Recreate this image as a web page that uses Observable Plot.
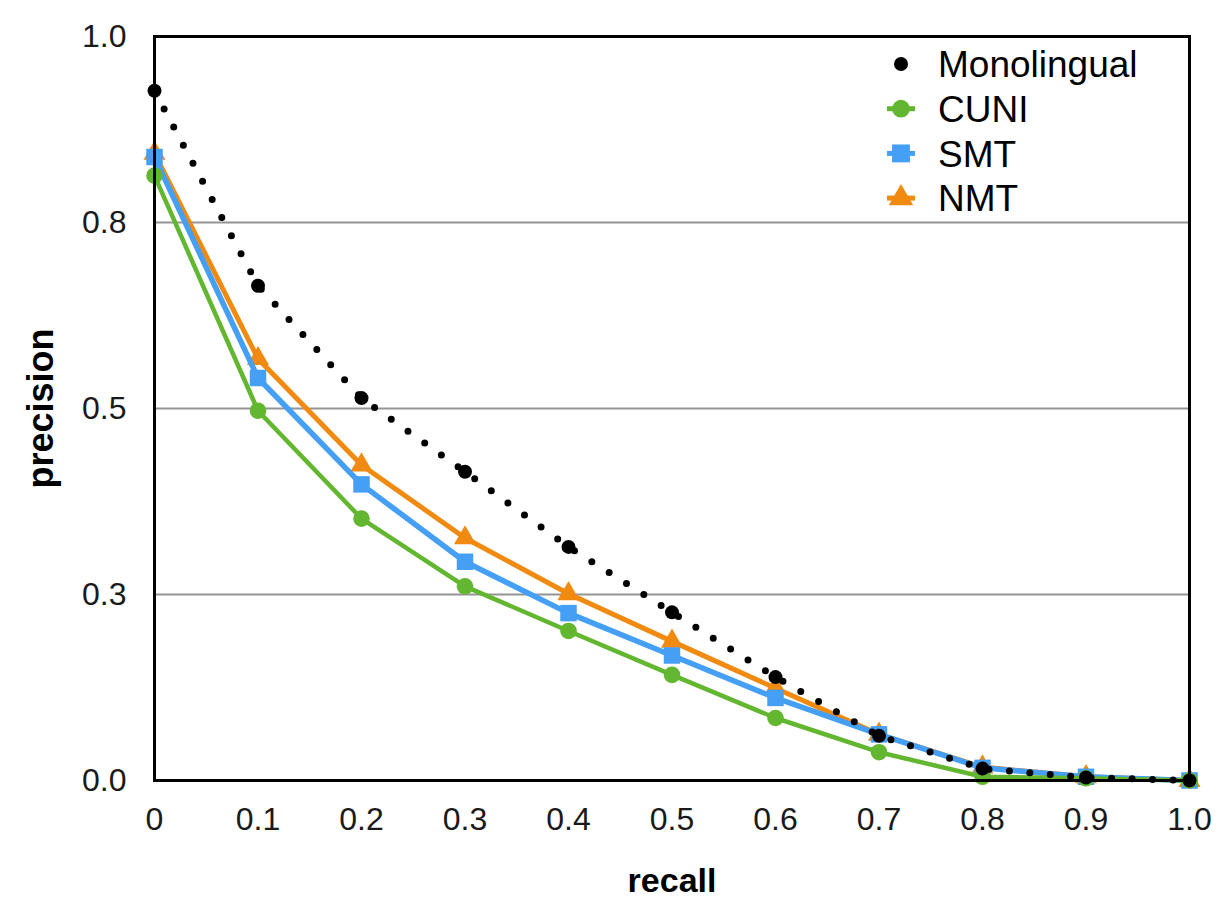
<!DOCTYPE html>
<html>
<head>
<meta charset="utf-8">
<script src="https://cdn.jsdelivr.net/npm/d3@7"></script>
<script src="https://cdn.jsdelivr.net/npm/@observablehq/plot@0.6"></script>
<style>
  html, body { margin: 0; padding: 0; background: #fff; }
  #wrap { position: relative; width: 1232px; height: 912px; font-family: "Liberation Sans", Arial, Helvetica, sans-serif; }
  #legend { position: absolute; left: 870px; top: 40px; }
</style>
</head>
<body>
<div id="wrap"></div>
<script>
const recall = [0, 0.1, 0.2, 0.3, 0.4, 0.5, 0.6, 0.7, 0.8, 0.9, 1.0];
const monolingual = [0.927, 0.665, 0.514, 0.415, 0.314, 0.226, 0.139, 0.060, 0.016, 0.004, 0.000];
const cuni = [0.813, 0.497, 0.352, 0.261, 0.201, 0.142, 0.084, 0.038, 0.005, 0.003, 0.000];
const smt = [0.838, 0.541, 0.398, 0.294, 0.225, 0.168, 0.111, 0.062, 0.017, 0.005, 0.000];
const nmt = [0.843, 0.567, 0.424, 0.326, 0.251, 0.187, 0.124, 0.062, 0.018, 0.005, 0.000];

const seriesNames = ["Monolingual", "CUNI", "SMT", "NMT"];
const seriesColors = ["#000000", "#63b730", "#459ff5", "#f08a10"];

const xTicks = [0, 0.1, 0.2, 0.3, 0.4, 0.5, 0.6, 0.7, 0.8, 0.9, 1.0];
const xTickLabels = ["0", "0.1", "0.2", "0.3", "0.4", "0.5", "0.6", "0.7", "0.8", "0.9", "1.0"];
const yTicks = [0, 0.25, 0.5, 0.75, 1.0];
const yTickLabels = ["0.0", "0.3", "0.5", "0.8", "1.0"];
const gridTicks = [0.25, 0.5, 0.75];

const xLabel = "recall";
const yLabel = "precision";

const rows = (vals) => recall.map((r, i) => ({x: r, y: vals[i]}));
const mono = rows(monolingual), cu = rows(cuni), sm = rows(smt), nm = rows(nmt);

const font = "'Liberation Sans', Arial, Helvetica, sans-serif";

const chart = Plot.plot({
  width: 1232,
  height: 912,
  marginLeft: 154,
  marginRight: 43,
  marginTop: 36,
  marginBottom: 132,
  style: {fontFamily: font, background: "#fff", overflow: "visible"},
  x: {domain: [0, 1]},
  y: {domain: [0, 1]},
  marks: [
    Plot.gridY(gridTicks, {stroke: "#949494", strokeOpacity: 1, strokeWidth: 2}),
    Plot.axisX({ticks: xTicks, tickFormat: (d) => xTickLabels[xTicks.indexOf(d)], tickSize: 0, tickPadding: 27, fontSize: 32, label: null, fill: "#1a1a1a"}),
    Plot.axisY({ticks: yTicks, tickFormat: (d) => yTickLabels[yTicks.indexOf(d)], tickSize: 0, tickPadding: 28, fontSize: 32, label: null, fill: "#1a1a1a"}),
    Plot.text([xLabel], {frameAnchor: "bottom", dy: 101, fontSize: 34, fontWeight: "bold", fill: "#000", lineAnchor: "middle"}),
    Plot.text([yLabel], {frameAnchor: "left", dx: -113, rotate: -90, textAnchor: "middle", fontSize: 36, fontWeight: "bold", fill: "#000", lineAnchor: "middle"}),
    // NMT
    Plot.line(nm, {x: "x", y: "y", stroke: seriesColors[3], strokeWidth: 5}),
    Plot.dot(nm, {x: "x", y: "y", symbol: "triangle", r: 8.2, fill: seriesColors[3]}),
    // SMT
    Plot.line(sm, {x: "x", y: "y", stroke: seriesColors[2], strokeWidth: 5.5}),
    Plot.dot(sm, {x: "x", y: "y", symbol: "square", r: 9.3, fill: seriesColors[2]}),
    // CUNI
    Plot.line(cu, {x: "x", y: "y", stroke: seriesColors[1], strokeWidth: 4.5}),
    Plot.dot(cu, {x: "x", y: "y", symbol: "circle", r: 8.3, fill: seriesColors[1]}),
    // Monolingual
    Plot.line(mono, {x: "x", y: "y", stroke: "#000", strokeWidth: 7, strokeDasharray: "0 20.5", strokeLinecap: "round"}),
    Plot.dot(mono, {x: "x", y: "y", r: 7, fill: "#000"}),
    Plot.frame({stroke: "#000", strokeWidth: 3})
  ]
});

const wrap = document.getElementById("wrap");
wrap.appendChild(chart);

// Legend
const leg = d3.create("svg").attr("id", "legend").attr("width", 320).attr("height", 180);
const symbols = [null, d3.symbolCircle, d3.symbolSquare, d3.symbolTriangle];
const sizes = [0, 250, 320, 260];
seriesNames.forEach((name, i) => {
  const g = leg.append("g").attr("transform", `translate(0, ${24 + i * 44.7})`);
  if (i === 0) {
    g.append("circle").attr("cx", 31).attr("cy", 0).attr("r", 7).attr("fill", "#000");
  } else {
    g.append("line").attr("x1", 17).attr("x2", 45).attr("y1", 0).attr("y2", 0)
      .attr("stroke", seriesColors[i]).attr("stroke-width", 5);
    g.append("path").attr("transform", "translate(31,0)")
      .attr("d", d3.symbol(symbols[i], sizes[i])()).attr("fill", seriesColors[i]);
  }
  g.append("text").attr("x", 68).attr("y", 0).attr("dy", "0.36em")
    .attr("font-size", 37).attr("font-family", font).attr("fill", "#000").text(name);
});
wrap.appendChild(leg.node());
</script>
</body>
</html>
